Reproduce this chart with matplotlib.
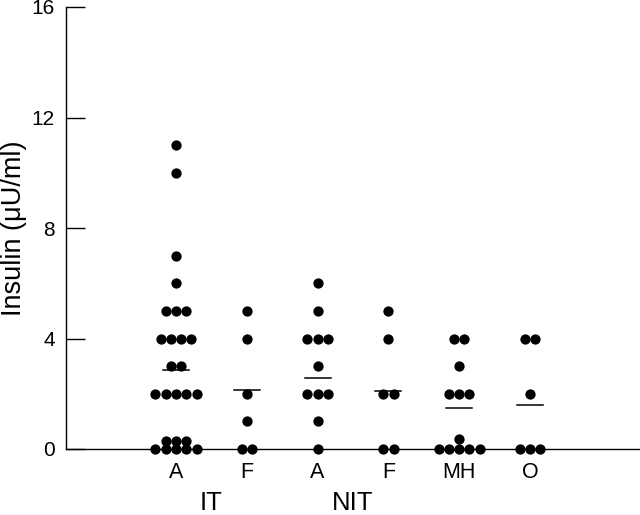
import numpy as np
import matplotlib
matplotlib.use("Agg")
import matplotlib.pyplot as plt
import matplotlib.transforms as mtransforms

plt.rcParams['font.family'] = ['Liberation Sans', 'DejaVu Sans']

# categories and group labels
cats = ["A", "F", "A", "F", "MH", "O"]
groups = ["IT", "NIT"]
group_pos = [1.5, 3.5]

# insulin values (uU/ml) read per group
IT_A = [11, 10, 7, 6, 5, 5, 5, 4, 4, 4, 4, 3, 3, 2, 2, 2, 2, 2,
        0.3, 0.3, 0.3, 0, 0, 0, 0, 0]
IT_F = [5, 4, 2, 1, 0, 0]
NIT_A = [6, 5, 4, 4, 4, 3, 2, 2, 2, 1, 0]
NIT_F = [5, 4, 2, 2, 0, 0]
NIT_MH = [4, 4, 3, 2, 2, 2, 0.35, 0, 0, 0, 0, 0]
NIT_O = [4, 4, 2, 0, 0, 0]
data = [IT_A, IT_F, NIT_A, NIT_F, NIT_MH, NIT_O]

# mean bars as drawn
means = [2.86, 2.12, 2.57, 2.1, 1.47, 1.6]

fig = plt.figure(figsize=(6.4, 5.15), dpi=100)
ax = fig.add_axes([66 / 640, 66 / 515, 1 - 66 / 640, 442 / 515])

step = 0.145
for i, vals in enumerate(data):
    x0 = i + 1
    vals = np.array(vals, dtype=float)
    for v in np.unique(vals):
        n = int(np.sum(vals == v))
        xs = x0 + (np.arange(n) - (n - 1) / 2) * step
        ax.plot(xs, [v] * n, 'o', color='black', markersize=7.4,
                markeredgewidth=0, clip_on=False, zorder=3)
    ax.plot([x0 - 0.185, x0 + 0.185], [means[i], means[i]], color='black',
            lw=1.1, zorder=2)

ax.set_xlim(-0.554, 7.554)
ax.set_ylim(0, 16)
ax.set_yticks([0, 4, 8, 12, 16])
ax.tick_params(axis='y', direction='in', length=14, width=1, pad=8,
               labelsize=15)
ax.set_xticks(range(1, 7))
ax.set_xticklabels(cats, fontsize=15.5)
ax.tick_params(axis='x', length=0, pad=9)
ax.spines['top'].set_visible(False)
ax.spines['right'].set_visible(False)
ax.spines['left'].set_linewidth(1)
ax.spines['bottom'].set_linewidth(1)
ax.set_ylabel("Insulin (\u03bcU/ml)", fontsize=19.5)
ax.yaxis.set_label_coords(-39 / 574, 0.5)

# group labels sit at the bottom edge of the figure
trans = mtransforms.blended_transform_factory(ax.transData, fig.transFigure)
for g, p in zip(groups, group_pos):
    ax.text(p, 0.5 / 515, g, transform=trans, ha='center', va='bottom',
            fontsize=18.5)

fig.savefig("out.png", dpi=100)
